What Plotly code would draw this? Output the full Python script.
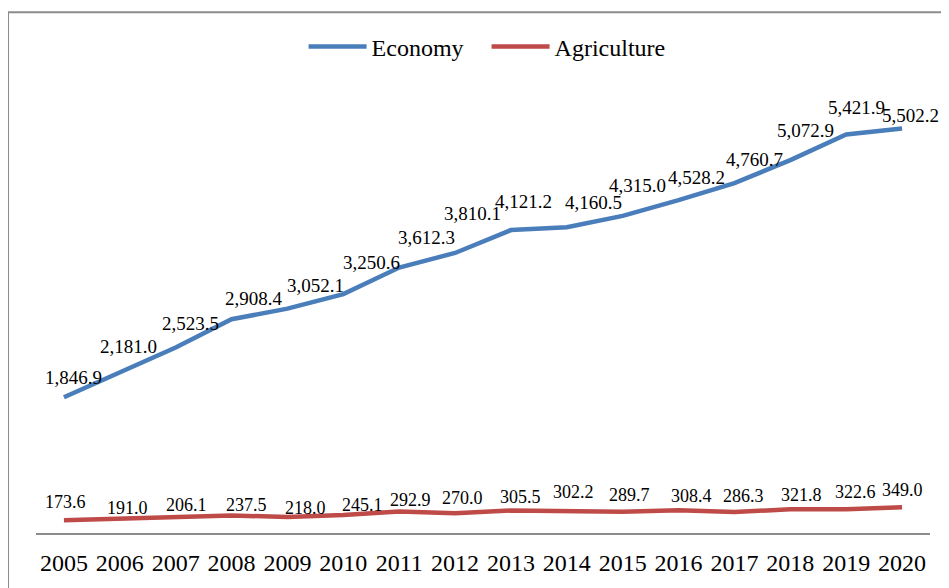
import plotly.graph_objects as go

years = ["2005", "2006", "2007", "2008", "2009", "2010", "2011", "2012",
         "2013", "2014", "2015", "2016", "2017", "2018", "2019", "2020"]
economy = [1846.9, 2181.0, 2523.5, 2908.4, 3052.1, 3250.6, 3612.3, 3810.1,
           4121.2, 4160.5, 4315.0, 4528.2, 4760.7, 5072.9, 5421.9, 5502.2]
agriculture = [173.6, 191.0, 206.1, 237.5, 218.0, 245.1, 292.9, 270.0,
               305.5, 302.2, 289.7, 308.4, 286.3, 321.8, 322.6, 349.0]

# label nudges in pixels (right, up) relative to each point, as in the reference
econ_nudge_x = [10, 9, 15, 22, 28, 28, 27, 17, 13, 27, 15, 18, 20, 15, 10, 8]
econ_nudge_y = [20, 26, 24, 21, 23, 32, 30, 39, 29, 25, 30, 23, 24, 30, 27, 13]
agri_nudge_x = [2, 8, 11, 15, 18, 19, 11, 7, 10, 7, 7, 13, 9, 11, 9, 0]
agri_nudge_y = [18, 11, 13, 11, 9, 10, 11, 15, 14, 19, 17, 14, 16, 14, 17, 17]

FONT = "Liberation Serif"
BLUE = "#4a7ebb"
RED = "#be4b48"

fig = go.Figure()
fig.add_trace(go.Scatter(x=years, y=economy, mode="lines", name="Economy",
                         line=dict(color=BLUE, width=4.5)))
fig.add_trace(go.Scatter(x=years, y=agriculture, mode="lines", name="Agriculture",
                         line=dict(color=RED, width=4.5)))

annotations = []
for i, v in enumerate(economy):
    annotations.append(dict(x=i, y=v, xref="x", yref="y", text=f"{v:,.1f}",
                            showarrow=False, xshift=econ_nudge_x[i], yshift=econ_nudge_y[i],
                            xanchor="center", yanchor="middle",
                            font=dict(family=FONT, size=19, color="black")))
for i, v in enumerate(agriculture):
    annotations.append(dict(x=i, y=v, xref="x", yref="y", text=f"{v:,.1f}",
                            showarrow=False, xshift=agri_nudge_x[i], yshift=agri_nudge_y[i],
                            xanchor="center", yanchor="middle",
                            font=dict(family=FONT, size=18, color="black")))

fig.update_layout(
    width=941, height=580, autosize=False,
    margin=dict(l=28, r=19, t=83.5, b=55),
    paper_bgcolor="white", plot_bgcolor="white",
    font=dict(family=FONT, color="black"),
    showlegend=True,
    legend=dict(orientation="h", x=0.504, xanchor="center", y=1.102, yanchor="middle",
                font=dict(family=FONT, size=24, color="black"),
                itemwidth=58, entrywidth=110, entrywidthmode="pixels",
                bgcolor="rgba(0,0,0,0)"),
    annotations=annotations,
    shapes=[dict(type="rect", xref="paper", yref="paper",
                 x0=-0.0313, x1=1.2, y0=-0.3, y1=1.181,
                 line=dict(color="#8c8c8c", width=2), fillcolor="rgba(0,0,0,0)",
                 layer="below")],
)
fig.update_xaxes(type="category", range=[-0.5, len(years) - 0.5],
                 showline=True, linecolor="#8c8c8c", linewidth=1.5,
                 showgrid=False, zeroline=False, ticks="",
                 tickfont=dict(family=FONT, size=24, color="black"),
                 ticklabelstandoff=7)
fig.update_yaxes(range=[0, 6000], visible=False, showgrid=False, zeroline=False)

fig.write_html("out.html")
